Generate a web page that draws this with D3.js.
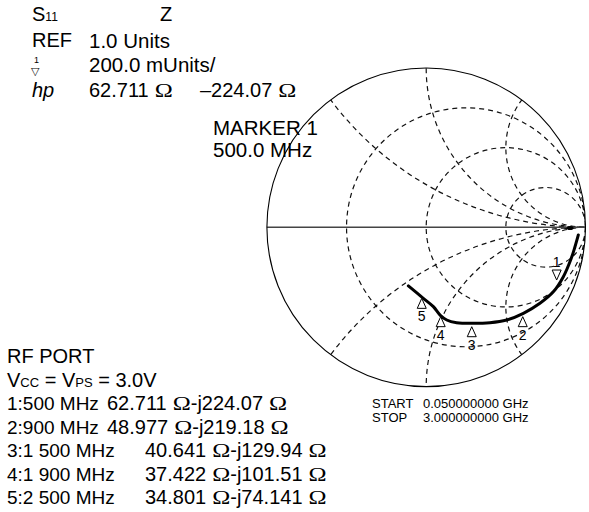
<!DOCTYPE html>
<html>
<head>
<meta charset="utf-8">
<script src="https://cdn.jsdelivr.net/npm/d3@7"></script>
<style>
  html, body { margin: 0; padding: 0; background: #fff; }
  svg { display: block; }
  text { font-family: "Liberation Sans", Arial, sans-serif; fill: #000; }
</style>
</head>
<body>
<div id="chart"></div>
<script>
// ---------- data ----------
// Smith chart grid values (normalized)
const resistanceCircles = [1/3, 1, 3];
const reactanceArcs = [0.5, 1, 2, -0.5, -1, -2];

const traceRe = [0.955, 0.934, 0.909, 0.861, 0.798, 0.714, 0.610, 0.505, 0.400, 0.296, 0.191, 0.129, 0.087, 0.045, -0.018, -0.112];
const traceIm = [-0.048, -0.122, -0.199, -0.310, -0.405, -0.477, -0.540, -0.582, -0.599, -0.603, -0.599, -0.582, -0.551, -0.498, -0.446, -0.368];

// start dot of the trace
const startDot = [0.903, -0.004];

// markers
const markerIds = ["1", "2", "3", "4", "5"];
const markerRe = [0.819, 0.606, 0.286, 0.091, -0.028];
const markerIm = [-0.331, -0.561, -0.624, -0.561, -0.446];
const markerUp = [false, true, true, true, true];

const markerFreq = ["1:500 MHz", "2:900 MHz", "3:1 500 MHz", "4:1 900 MHz", "5:2 500 MHz"];
const markerRes = ["62.711", "48.977", "40.641", "37.422", "34.801"];
const markerReact = ["224.07", "219.18", "129.94", "101.51", "74.141"];

// ---------- layout ----------
const W = 589, H = 512;
const cx = 426.2, cy = 227.3, R = 159.3;

const svg = d3.select("#chart").append("svg")
  .attr("width", W).attr("height", H);

const xs = d3.scaleLinear().domain([-1, 1]).range([cx - R, cx + R]);
const ys = d3.scaleLinear().domain([-1, 1]).range([cy + R, cy - R]);
const rs = d3.scaleLinear().domain([0, 1]).range([0, R]);

svg.append("defs").append("clipPath").attr("id", "unit")
  .append("circle").attr("cx", xs(0)).attr("cy", ys(0)).attr("r", rs(1));

const grid = svg.append("g").attr("clip-path", "url(#unit)")
  .attr("fill", "none").attr("stroke", "#111").attr("stroke-width", 1.2)
  .attr("stroke-dasharray", "5,4");

grid.selectAll("circle.r").data(resistanceCircles).join("circle")
  .attr("class", "r")
  .attr("cx", r => xs(r / (r + 1)))
  .attr("cy", ys(0))
  .attr("r", r => rs(1 / (r + 1)));

grid.selectAll("circle.x").data(reactanceArcs).join("circle")
  .attr("class", "x")
  .attr("cx", xs(1))
  .attr("cy", x => ys(1 / x))
  .attr("r", x => rs(1 / Math.abs(x)));

// horizontal axis
svg.append("line")
  .attr("x1", xs(-1)).attr("x2", xs(1))
  .attr("y1", ys(0)).attr("y2", ys(0))
  .attr("stroke", "#444").attr("stroke-width", 1.4);

// outer circle
svg.append("circle")
  .attr("cx", xs(0)).attr("cy", ys(0)).attr("r", rs(1))
  .attr("fill", "none").attr("stroke", "#000").attr("stroke-width", 1.1);

// trace
const pts = traceRe.map((v, i) => [xs(v), ys(traceIm[i])]);
svg.append("path")
  .attr("d", d3.line().curve(d3.curveCatmullRom.alpha(0.5))(pts))
  .attr("fill", "none").attr("stroke", "#000").attr("stroke-width", 3)
  .attr("stroke-linecap", "round");

svg.append("ellipse")
  .attr("cx", xs(startDot[0])).attr("cy", ys(startDot[1]))
  .attr("rx", 3.5).attr("ry", 2).attr("fill", "#000");

// markers
const mk = svg.append("g");
markerIds.forEach((id, i) => {
  const px = xs(markerRe[i]), py = ys(markerIm[i]);
  const up = markerUp[i];
  const h = 10, w = 4.5;
  const d = up
    ? `M${px},${py} L${px - w},${py + h} L${px + w},${py + h} Z`
    : `M${px},${py} L${px - w},${py - h} L${px + w},${py - h} Z`;
  mk.append("path").attr("d", d).attr("fill", "#fff")
    .attr("stroke", "#000").attr("stroke-width", 1);
  mk.append("text").attr("x", px).attr("y", up ? py + h + 13 : py - h - 3)
    .attr("text-anchor", "middle").attr("font-size", 14).text(id);
});

// ---------- text ----------
const FS = 20;
const T = (x, y, s, size, extra) => {
  const t = svg.append("text").attr("x", x).attr("y", y).attr("font-size", size).text(s);
  if (extra) extra(t);
  return t;
};

// builds a line out of pieces, each placed after the previous one
const OMEGA = { t: "\u03A9", size: 18, family: "Liberation Serif, Times New Roman, serif", sx: 1.35 };
function richLine(x, y, pieces) {
  let cur = x;
  pieces.forEach(p => {
    if (p.gap) { cur += p.gap; return; }
    const t = svg.append("text")
      .attr("transform", `translate(${cur},${y}) scale(${p.sx || 1},1)`)
      .attr("font-size", p.size || FS)
      .text(p.t);
    if (p.family) t.style("font-family", p.family);
    cur += t.node().getComputedTextLength() * (p.sx || 1);
  });
  return cur;
}

// top-left block
const s11 = svg.append("text").attr("x", 32).attr("y", 21).attr("font-size", FS);
s11.append("tspan").text("S");
s11.append("tspan").attr("font-size", 12).text("11");
T(160, 21, "Z", FS);
T(32, 47, "REF", FS);
T(89, 48, "1.0 Units", 20.5);
T(34, 63, "1", 9);
T(31, 75, "\u25BD", 11);
T(89, 72, "200.0 mUnits/", 20.5);
T(32, 97, "hp", FS, t => t.attr("font-style", "italic"));
richLine(89, 97, [{ t: markerRes[0] }, { gap: 6 }, OMEGA]);
richLine(200, 97, [{ t: "\u2013" + markerReact[0] }, { gap: 6 }, OMEGA]);
T(213, 135, "MARKER 1", 20.5);
T(213, 157, "500.0 MHz", 20.5);

// bottom-left block
T(7, 363, "RF PORT", FS);
const vcc = svg.append("text").attr("x", 7).attr("y", 387).attr("font-size", FS);
vcc.append("tspan").text("V");
vcc.append("tspan").attr("font-size", 13).text("CC");
vcc.append("tspan").text(" = V");
vcc.append("tspan").attr("font-size", 13).text("PS");
vcc.append("tspan").text(" = 3.0V");

markerFreq.forEach((f, i) => {
  const y = 410 + i * 23.5;
  T(7, y, f, 19);
  const vx = i < 2 ? 107 : 145;
  richLine(vx, y, [
    { t: markerRes[i] }, { gap: 6 }, OMEGA,
    { t: "-j" + markerReact[i] }, { gap: 6 }, OMEGA
  ]);
});

// start / stop
T(372, 408, "START", 13);
T(423, 408, "0.050000000 GHz", 13);
T(372, 422, "STOP", 13);
T(423, 422, "3.000000000 GHz", 13);
</script>
</body>
</html>
